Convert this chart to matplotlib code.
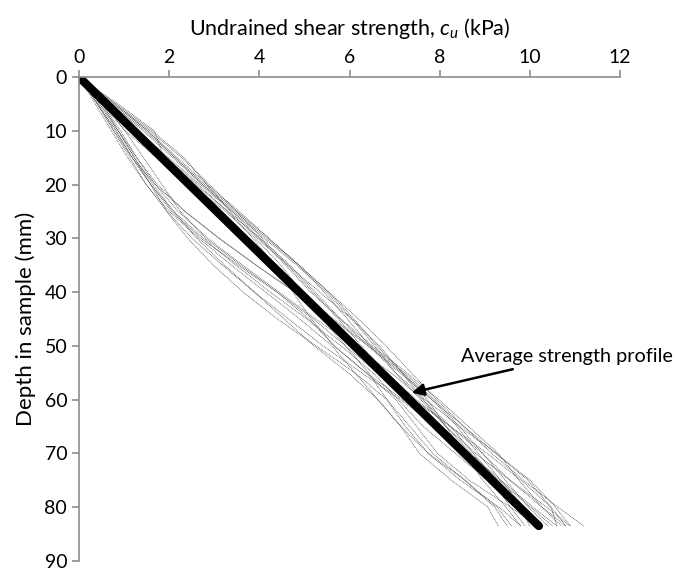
import numpy as np
import matplotlib
matplotlib.use("Agg")
import matplotlib.pyplot as plt

plt.rcParams['font.family'] = ['Lato', 'DejaVu Sans']
plt.rcParams['mathtext.fontset'] = 'custom'
plt.rcParams['mathtext.it'] = 'Lato:italic'
plt.rcParams['mathtext.rm'] = 'Lato'

# depth points (mm) shared by all individual profiles
depths = [0, 5, 10, 15, 20, 25, 30, 35, 40, 45, 50, 55, 60, 65, 70, 75, 80, 83.5]

# undrained shear strength (kPa)
profile_a = [0, 0.86, 1.67, 1.88, 2.59, 3.30, 4.01, 4.68, 5.24, 5.80, 6.41, 7.12, 7.83, 8.39, 8.85, 9.36, 9.87, 10.3]
profile_b = [0, 0.76, 1.52, 2.18, 2.84, 3.55, 4.21, 4.88, 5.54, 6.20, 6.81, 7.37, 7.93, 8.54, 9.15, 9.86, 10.62, 11.2]
profile_c = [0, 0.36, 0.72, 1.08, 1.49, 2.00, 2.66, 3.38, 4.14, 4.90, 5.61, 6.12, 6.63, 7.14, 7.75, 8.56, 9.27, 9.6]
profile_d = [0, 0.41, 0.82, 1.18, 1.59, 1.95, 2.41, 2.98, 3.64, 4.40, 5.26, 6.12, 6.83, 7.34, 7.85, 8.56, 9.22, 9.5]
profile_e = [0, 0.51, 1.02, 1.73, 2.49, 3.25, 3.91, 4.48, 4.94, 5.40, 5.91, 6.62, 7.43, 8.24, 8.95, 9.56, 10.27, 10.8]
profile_f = [0, 0.81, 1.52, 2.13, 2.74, 3.45, 4.16, 4.88, 5.54, 6.10, 6.61, 7.17, 7.83, 8.54, 9.25, 9.96, 10.47, 10.6]
profile_g = [0, 0.51, 0.92, 1.28, 1.69, 2.20, 2.86, 3.63, 4.44, 5.25, 6.11, 6.92, 7.63, 8.24, 8.75, 9.26, 9.77, 10.0]
profile_h = [0, 0.46, 0.87, 1.23, 1.64, 2.10, 2.61, 3.23, 3.89, 4.55, 5.21, 5.97, 6.63, 7.14, 7.55, 8.26, 9.07, 9.3]
profile_i = [0, 0.71, 1.42, 2.08, 2.74, 3.40, 4.01, 4.58, 5.14, 5.80, 6.51, 7.27, 7.98, 8.64, 9.30, 9.76, 10.27, 10.7]
profile_j = [0, 0.41, 0.77, 1.18, 1.69, 2.35, 3.11, 3.93, 4.79, 5.60, 6.41, 7.17, 7.73, 8.14, 8.55, 8.96, 9.47, 9.8]
profile_k = [0, 0.66, 1.32, 1.98, 2.69, 3.40, 4.11, 4.83, 5.49, 6.05, 6.56, 7.02, 7.68, 8.44, 9.25, 10.01, 10.57, 10.9]
profile_l = [0, 0.51, 0.87, 1.23, 1.59, 2.05, 2.71, 3.53, 4.39, 5.10, 5.66, 6.37, 7.18, 7.94, 8.65, 9.16, 9.57, 9.9]
profile_m = [0, 0.81, 1.62, 2.33, 2.84, 3.35, 3.96, 4.63, 5.34, 6.05, 6.66, 7.17, 7.63, 8.14, 8.80, 9.56, 10.37, 10.9]
profile_n = [0, 0.41, 0.77, 1.13, 1.49, 1.95, 2.51, 3.18, 3.89, 4.65, 5.41, 6.27, 7.13, 7.94, 8.65, 9.36, 10.07, 10.6]
profile_o = [0, 0.61, 1.27, 1.93, 2.64, 3.30, 3.86, 4.33, 4.74, 5.15, 5.66, 6.37, 7.03, 7.49, 7.95, 8.66, 9.57, 10.2]
profile_p = [0, 0.46, 0.87, 1.28, 1.74, 2.35, 3.11, 3.93, 4.79, 5.65, 6.46, 7.22, 7.88, 8.44, 8.95, 9.46, 9.97, 10.4]
profile_q = [0, 0.76, 1.57, 2.28, 2.89, 3.50, 4.06, 4.63, 5.19, 5.75, 6.26, 6.82, 7.48, 8.24, 9.05, 9.81, 10.47, 10.8]
profile_r = [0, 0.56, 1.02, 1.43, 1.84, 2.25, 2.81, 3.58, 4.39, 5.20, 5.91, 6.42, 6.83, 7.24, 7.75, 8.46, 9.32, 9.8]
profile_s = [0, 0.71, 1.47, 2.13, 2.79, 3.50, 4.21, 4.88, 5.44, 5.95, 6.46, 7.02, 7.58, 8.14, 8.70, 9.31, 10.02, 10.5]
profile_t = [0, 0.41, 0.82, 1.18, 1.59, 2.10, 2.76, 3.48, 4.24, 5.05, 5.81, 6.52, 7.08, 7.64, 8.35, 9.06, 9.77, 10.1]

profiles = [profile_a, profile_b, profile_c, profile_d, profile_e, profile_f, profile_g,
            profile_h, profile_i, profile_j, profile_k, profile_l, profile_m, profile_n,
            profile_o, profile_p, profile_q, profile_r, profile_s, profile_t]

# average strength profile
avg_depth = [0, 83.5]
avg_cu = [0, 10.2]

x_ticks = [0, 2, 4, 6, 8, 10, 12]
y_ticks = [0, 10, 20, 30, 40, 50, 60, 70, 80, 90]

fig = plt.figure(figsize=(6.77, 5.70), dpi=100)
ax = fig.add_axes([0.1167, 0.0158, 0.7991, 0.8491])

for p in profiles:
    ax.plot(p, depths, linestyle=(0, (1, 1)), color='#4d4d4d', linewidth=0.6)

ax.plot(avg_cu, avg_depth, color='black', linewidth=6, solid_capstyle='round')

ax.annotate("Average strength profile", xy=(7.38, 58.7), xytext=(8.47, 52.0),
            fontsize=14.3, va='center', ha='left',
            arrowprops=dict(arrowstyle='-|>', color='black', lw=1.8,
                            mutation_scale=18, shrinkA=4, shrinkB=0))

ax.set_xlim(0, 12)
ax.set_ylim(90, 0)
ax.set_xticks(x_ticks)
ax.set_yticks(y_ticks)
ax.xaxis.tick_top()
ax.xaxis.set_label_position('top')
ax.set_xlabel("Undrained shear strength, $c_u$ (kPa)", fontsize=15.5, labelpad=10)
ax.set_ylabel("Depth in sample (mm)", fontsize=16, labelpad=6)

for side in ['right', 'bottom']:
    ax.spines[side].set_visible(False)
for side in ['left', 'top']:
    ax.spines[side].set_color('#8c8c8c')
    ax.spines[side].set_linewidth(1.2)
ax.tick_params(axis='both', colors='#8c8c8c', labelcolor='black', labelsize=14,
               length=5, width=1.2, direction='out')
ax.tick_params(axis='x', pad=3)

fig.savefig("out.png", dpi=100)
